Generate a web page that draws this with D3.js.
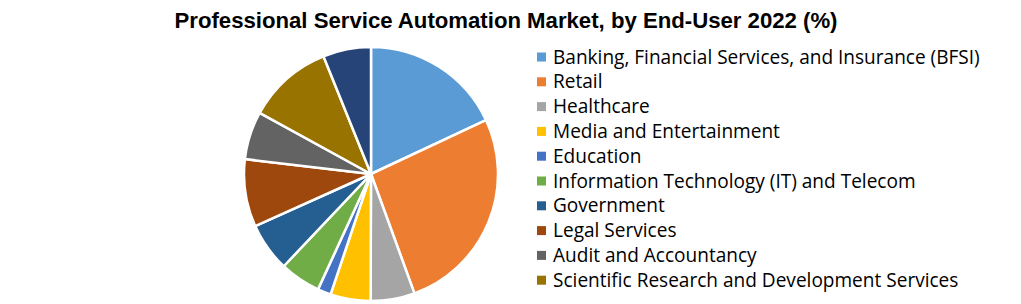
<!DOCTYPE html>
<html>
<head>
<meta charset="utf-8">
<script src="https://cdn.jsdelivr.net/npm/d3@7"></script>
<style>
  html,body{margin:0;padding:0;background:#fff;overflow:hidden;}
  svg{display:block;}
</style>
</head>
<body>
<div id="chart"></div>
<script>
var width=1021, height=304;

// values (share in %)
var categories=[
  'Banking, Financial Services, and Insurance (BFSI)',
  'Retail',
  'Healthcare',
  'Media and Entertainment',
  'Education',
  'Information Technology (IT) and Telecom',
  'Government',
  'Legal Services',
  'Audit and Accountancy',
  'Scientific Research and Development Services',
  'Others'
];
var shares=[18.0,26.4,5.6,5.1,1.7,5.2,6.2,8.6,6.1,10.9,6.1];
var colors=['#5B9BD5','#ED7D31','#A5A5A5','#FFC000','#4472C4','#70AD47',
            '#255E91','#9E480E','#636363','#997300','#264478'];
// the original legend only shows the first ten entries
var legendCount=10;

var cx=371, cy=174, radius=127;

var svg=d3.select('#chart').append('svg')
  .attr('width',width)
  .attr('height',height);

// title
svg.append('text')
  .attr('x',506)
  .attr('y',28)
  .attr('text-anchor','middle')
  .attr('font-family','"Liberation Sans Narrow","Liberation Sans",Arial,sans-serif')
  .attr('font-weight','bold')
  .attr('font-size',22)
  .attr('textLength',663)
  .attr('lengthAdjust','spacingAndGlyphs')
  .attr('fill','#000')
  .text('Professional Service Automation Market, by End-User 2022 (%)');

var data=categories.map(function(c,i){return {name:c,value:shares[i],color:colors[i]};});

var pie=d3.pie().sort(null).value(function(d){return d.value;});
var arc=d3.arc().innerRadius(0).outerRadius(radius);

var g=svg.append('g').attr('transform','translate('+cx+','+cy+')');
g.selectAll('path')
  .data(pie(data))
  .enter()
  .append('path')
  .attr('d',arc)
  .attr('fill',function(d){return d.data.color;})
  .attr('stroke','#fff')
  .attr('stroke-width',2.5)
  .attr('stroke-linejoin','round');

// legend
var legendX=537, legendY=57, rowH=24.8;
var legend=svg.append('g');
var items=legend.selectAll('g.item')
  .data(data.slice(0,legendCount))
  .enter()
  .append('g')
  .attr('class','item')
  .attr('transform',function(d,i){return 'translate('+legendX+','+(legendY+i*rowH)+')';});

items.append('rect')
  .attr('x',0)
  .attr('y',-4.5)
  .attr('width',9)
  .attr('height',9)
  .attr('fill',function(d){return d.color;});

var labels=items.append('text')
  .attr('x',16)
  .attr('y',0)
  .attr('dy','0.35em')
  .attr('font-family','"Open Sans","Noto Sans",sans-serif')
  .attr('font-size',17)
  .attr('fill','#000')
  .text(function(d){return d.name;});

// fit font so the longest label spans like the original
var w=labels.nodes()[0].getComputedTextLength();
var fs=17*427/w;
labels.attr('font-size',fs);
</script>
</body>
</html>
